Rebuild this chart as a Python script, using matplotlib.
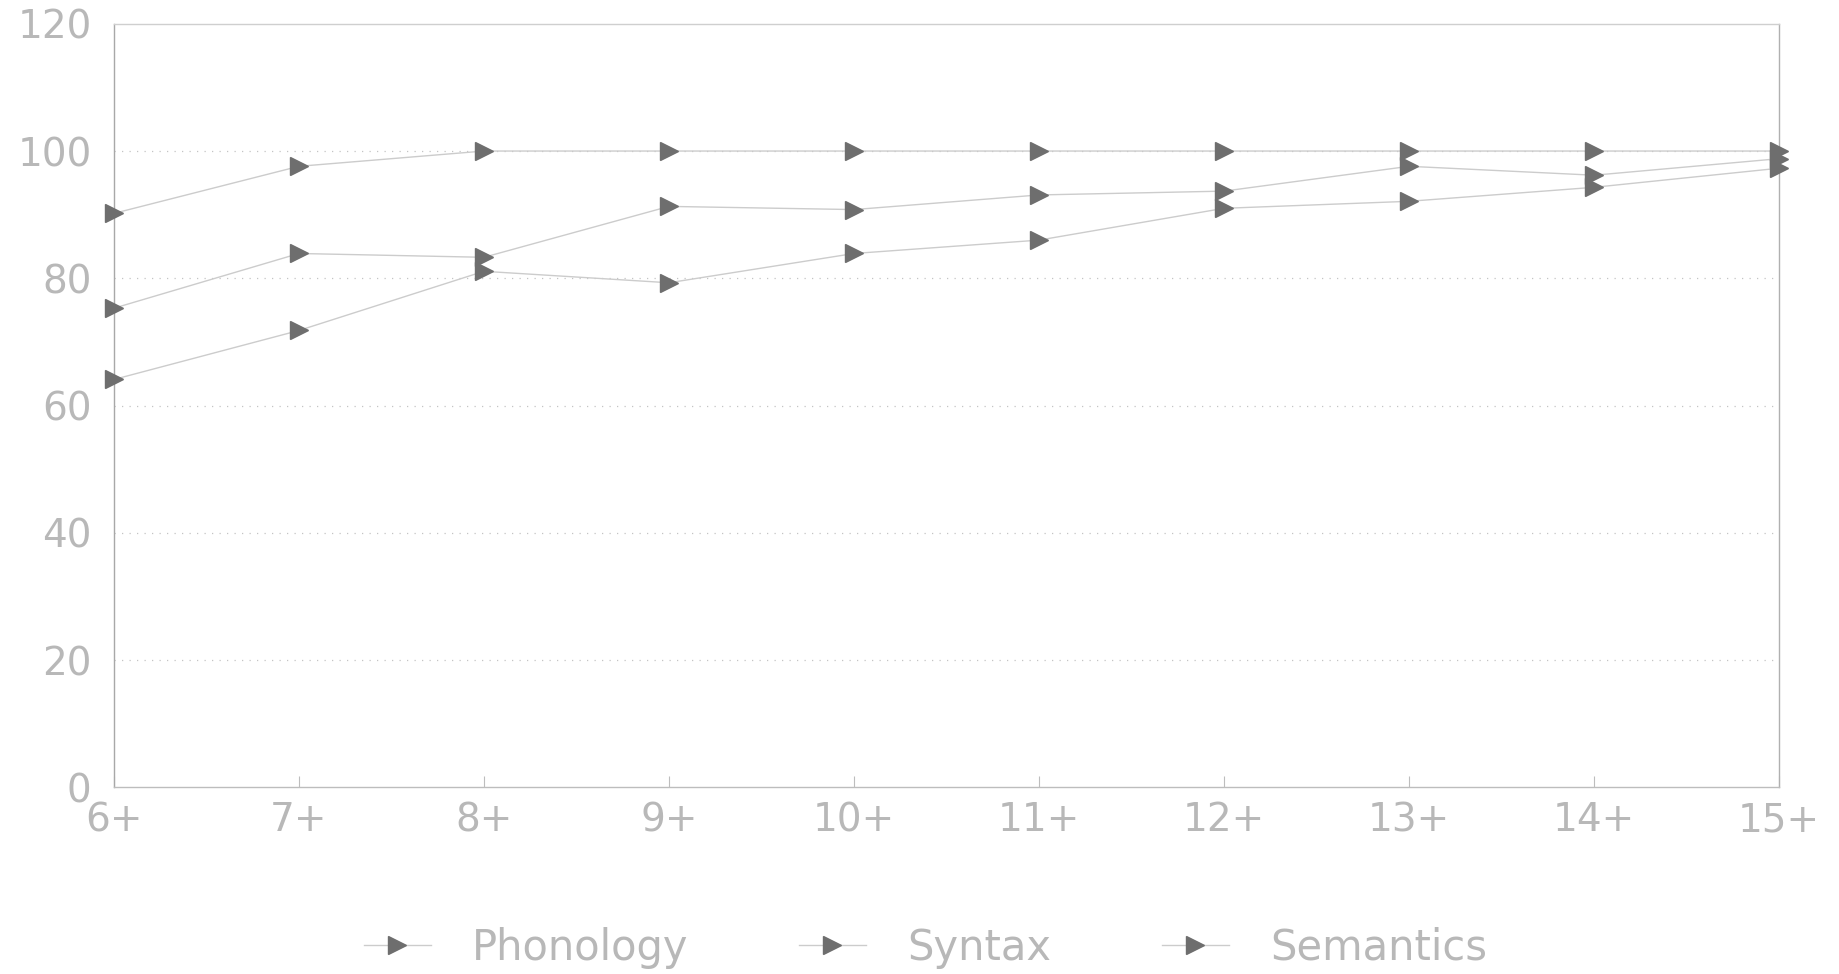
import matplotlib.pyplot as plt

# 年齢グループ
ages = ['6+', '7+', '8+', '9+', '10+', '11+', '12+', '13+', '14+', '15+']

# 各領域の値
phonology = [90.2, 97.6, 100, 100, 100, 100, 100, 100, 100, 100]
syntax = [75.3, 83.9, 83.3, 91.3, 90.8, 93.1, 93.7, 97.6, 96.2, 98.8]
semantics = [64.1, 71.8, 81.1, 79.3, 83.9, 86.0, 91.0, 92.1, 94.3, 97.3]

series = [('Phonology', phonology), ('Syntax', syntax), ('Semantics', semantics)]

text_col = '#b8b8b8'
line_col = '#cccccc'
mark_col = '#6e6e6e'

plt.rcParams['font.family'] = ['DejaVu Sans']

fig = plt.figure(figsize=(18.4, 9.74), dpi=100)
ax = fig.add_axes([0.0619, 0.1916, 0.905, 0.784])

x = list(range(len(ages)))
for name, vals in series:
    ax.plot(x, vals, color=line_col, lw=1.0, marker='>', markersize=13,
            markerfacecolor=mark_col, markeredgecolor=mark_col, label=name,
            clip_on=False, zorder=3)

ax.set_xlim(0, len(ages) - 1)
ax.set_ylim(0, 120)
ax.set_yticks([0, 20, 40, 60, 80, 100, 120])
ax.set_xticks(x)
ax.set_xticklabels(ages)

for yv in [20, 40, 60, 80, 100]:
    ax.axhline(yv, color='#c4c4c4', lw=0.9, ls=(0, (1, 5)), zorder=1)

for s in ax.spines.values():
    s.set_color('#cfcfcf')
    s.set_linewidth(1.0)
ax.spines['left'].set_color('#a8a8a8')
ax.spines['bottom'].set_color('#bdbdbd')
ax.spines['right'].set_color('#b0b0b0')

ax.tick_params(axis='y', length=0, pad=16, labelsize=28, labelcolor=text_col)
ax.tick_params(axis='x', direction='in', length=8, color='#bdbdbd',
               pad=10, labelsize=28, labelcolor=text_col)

handles, labels = ax.get_legend_handles_labels()
leg = fig.legend(handles, labels, loc='center', bbox_to_anchor=(0.503, 0.027),
                 ncol=3, frameon=False, fontsize=30, handlelength=1.6,
                 columnspacing=2.65, handletextpad=1.0)
for t in leg.get_texts():
    t.set_color(text_col)

fig.savefig('out.png', dpi=100)
